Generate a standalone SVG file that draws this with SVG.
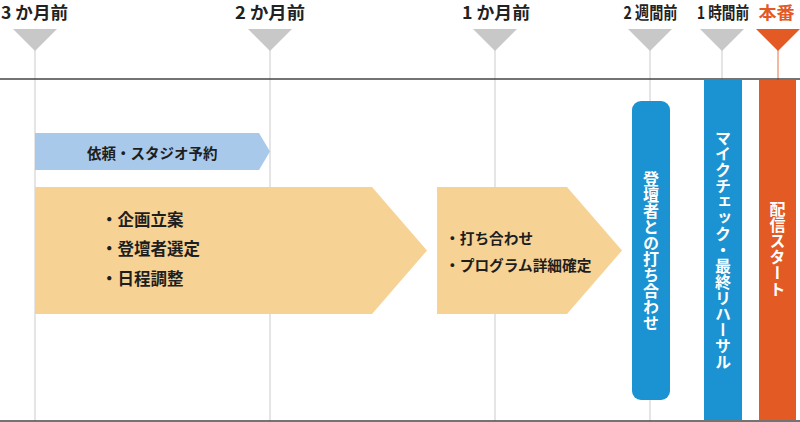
<svg xmlns="http://www.w3.org/2000/svg" width="800" height="422" viewBox="0 0 800 422">
<style>
.lbl{font-family:"Noto Sans CJK JP","Liberation Sans",sans-serif;font-weight:bold;font-size:17px;fill:#222;text-anchor:middle;dominant-baseline:central}
.tri{fill:#c8c8c8}
.vl{stroke:#dcdcdc;stroke-width:1.5;fill:none}
.txt{font-family:"Noto Sans CJK JP","Liberation Sans",sans-serif;font-weight:bold;fill:#1e1e1e;dominant-baseline:central}
.vt{font-family:"Noto Sans CJK JP","Liberation Sans",sans-serif;font-weight:bold;font-size:16px;fill:#fff;writing-mode:tb;text-anchor:middle}
</style>
<rect width="800" height="422" fill="#fff"/>
<g id="timeline">
<line class="vl" x1="35" y1="48" x2="35" y2="421"/>
<line class="vl" x1="270" y1="48" x2="270" y2="421"/>
<line class="vl" x1="495" y1="48" x2="495" y2="421"/>
<line class="vl" x1="650" y1="48" x2="650" y2="421"/>
<line class="vl" x1="722" y1="48" x2="722" y2="80"/>
<line x1="778" y1="48" x2="778" y2="80" stroke="#f0a080" stroke-width="1.5"/>
<line x1="0" y1="79" x2="800" y2="79" stroke="#444" stroke-width="1.5"/>
<line x1="0" y1="421" x2="800" y2="421" stroke="#444" stroke-width="1.5"/>
</g>
<g id="m3"><polygon class="tri" points="13,29 57,29 35,51"/><text class="lbl" x="34.5" y="11" textLength="67" lengthAdjust="spacingAndGlyphs">3 か月前</text></g>
<g id="m2"><polygon class="tri" points="248,29 292,29 270,51"/><text class="lbl" x="270" y="11" textLength="70" lengthAdjust="spacingAndGlyphs">2 か月前</text></g>
<g id="m1"><polygon class="tri" points="473,29 517,29 495,51"/><text class="lbl" x="496" y="11" textLength="68" lengthAdjust="spacingAndGlyphs">1 か月前</text></g>
<g id="w2"><polygon class="tri" points="628,29 672,29 650,51"/><text class="lbl" x="650.5" y="11" textLength="54" lengthAdjust="spacingAndGlyphs">2 週間前</text></g>
<g id="h1"><polygon class="tri" points="700,29 744,29 722,51"/><text class="lbl" x="723" y="11" textLength="52" lengthAdjust="spacingAndGlyphs">1 時間前</text></g>
<g id="live"><polygon fill="#e35a25" points="756,29 800,29 778,51"/><text class="lbl" x="776.5" y="11.5" style="fill:#e35a25" textLength="36" lengthAdjust="spacingAndGlyphs">本番</text></g>
<g id="request">
<polygon fill="#a9c9ea" points="35,133 259,133 270,151.5 259,170 35,170"/>
<text class="txt" x="87" y="152.5" font-size="14.5">依頼・スタジオ予約</text>
</g>
<g id="plan">
<polygon fill="#f6d294" points="35,187 372,187 427,250.5 372,314 35,314"/>
<text class="txt" x="101" y="219" font-size="16.5">・企画立案</text>
<text class="txt" x="101" y="248" font-size="16.5">・登壇者選定</text>
<text class="txt" x="101" y="278" font-size="16.5">・日程調整</text>
</g>
<g id="meeting">
<polygon fill="#f6d294" points="437,187 567,187 622,250.5 567,314 437,314"/>
<text class="txt" x="445" y="237" font-size="14.7">・打ち合わせ</text>
<text class="txt" x="445" y="264" font-size="14.7">・プログラム詳細確定</text>
</g>
<g id="speaker">
<rect x="632" y="101" width="38" height="299" rx="9" fill="#1b92d1"/>
<text class="vt" x="651" y="251">登壇者との打ち合わせ</text>
</g>
<g id="rehearsal">
<rect x="704" y="80" width="38" height="340" fill="#1b92d1"/>
<text class="vt" x="723" y="250">マイクチェック・最終リハーサル</text>
</g>
<g id="start">
<rect x="759" y="80" width="37" height="340" fill="#e35a25"/>
<text class="vt" x="777.5" y="249">配信スタート</text>
</g>
</svg>
